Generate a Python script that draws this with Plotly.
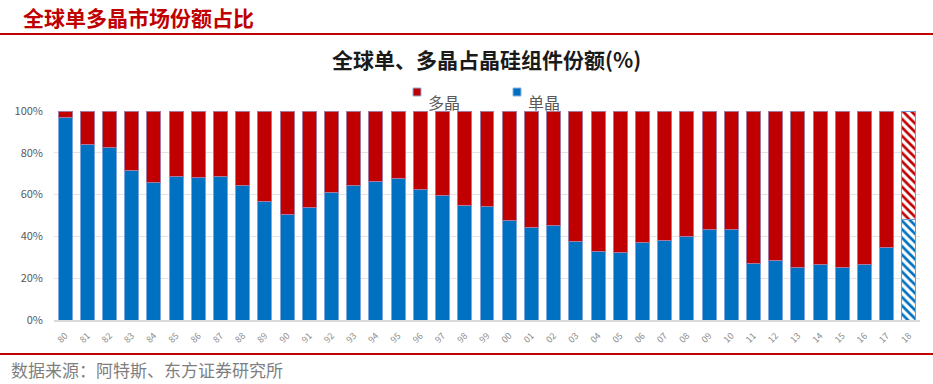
import plotly.graph_objects as go

years = ["80","81","82","83","84","85","86","87","88","89","90","91","92","93","94","95","96","97","98","99",
         "00","01","02","03","04","05","06","07","08","09","10","11","12","13","14","15","16","17","18"]
mono = [96.8, 84.0, 82.4, 71.5, 65.9, 68.8, 68.0, 68.5, 64.5, 56.8, 50.4, 53.6, 60.8, 64.5, 66.4, 67.5, 62.4, 59.7, 54.9, 54.1,
        47.5, 44.3, 45.1, 37.6, 32.8, 32.3, 37.3, 37.9, 40.0, 43.2, 43.2, 27.2, 28.5, 25.3, 26.7, 25.3, 26.7, 34.7, 48.0]
multi = [round(100 - v, 1) for v in mono]
forecast = ["18"]
series_names = ["多晶", "单晶"]

RED = "#C00000"
BLUE = "#0070C0"
FONT = "Microsoft YaHei, Noto Sans CJK SC, sans-serif"

hist_idx = [i for i, y in enumerate(years) if y not in forecast]
fc_idx = [i for i, y in enumerate(years) if y in forecast]

fig = go.Figure()
for vals, name, col, outline in [(mono, series_names[1], BLUE, "#7BA7DE"), (multi, series_names[0], RED, "#A8789E")]:
    fig.add_trace(go.Bar(
        x=[years[i] for i in hist_idx], y=[vals[i] for i in hist_idx], name=name, showlegend=False,
        marker=dict(color=col, line=dict(color=outline, width=1)),
    ))
    fig.add_trace(go.Bar(
        x=[years[i] for i in fc_idx], y=[vals[i] for i in fc_idx], name=name + "(预测)", showlegend=False,
        marker=dict(color=col, line=dict(color="#6A9AD8", width=1),
                    pattern=dict(shape="\\", fgcolor=col, bgcolor="white", fillmode="replace",
                                 size=6, solidity=0.45)),
    ))

W, H = 933, 384
L, R, T, B = 54, 13, 111, 64
pw, ph = W - L - R, H - T - B

def px(x):
    return (x - L) / pw

def py(y):
    return (H - B - y) / ph

shape_list = [
    dict(type="line", xref="paper", yref="paper", x0=px(0), x1=px(W), y0=py(34), y1=py(34),
         line=dict(color=RED, width=2)),
    dict(type="line", xref="paper", yref="paper", x0=px(0), x1=px(W), y0=py(354), y1=py(354),
         line=dict(color=RED, width=2)),
]
ann = [
    dict(text="<b>全球单多晶市场份额占比</b>", xref="paper", yref="paper", x=px(21), y=py(17),
         xanchor="left", yanchor="middle", showarrow=False, font=dict(size=21, color=RED, family=FONT)),
    dict(text="<b>全球单、多晶占晶硅组件份额(%)</b>", xref="paper", yref="paper", x=px(486), y=py(59),
         xanchor="center", yanchor="middle", showarrow=False, font=dict(size=21, color="#1a1a1a", family=FONT)),
    dict(text="数据来源：阿特斯、东方证券研究所", xref="paper", yref="paper", x=px(9), y=py(369),
         xanchor="left", yanchor="middle", showarrow=False, font=dict(size=17, color="#7f7f7f", family=FONT)),
]
# manual legend
for (sx, tx, col, name) in [(413, 426, RED, series_names[0]), (513, 526, BLUE, series_names[1])]:
    shape_list.append(dict(type="rect", xref="paper", yref="paper", x0=px(sx), x1=px(sx + 8),
                           y0=py(96), y1=py(88), fillcolor=col, line=dict(color="#8FB0E0", width=1)))
    ann.append(dict(text=name, xref="paper", yref="paper", x=px(tx), y=py(102), xanchor="left",
                    yanchor="middle", showarrow=False, font=dict(size=16, color="#595959", family=FONT)))

fig.update_layout(
    width=W, height=H,
    margin=dict(l=L, r=R, t=T, b=B, autoexpand=False),
    barmode="stack", bargap=0.37,
    plot_bgcolor="white", paper_bgcolor="white",
    font=dict(family=FONT, color="#595959"),
    showlegend=False,
    xaxis=dict(type="category", categoryorder="array", categoryarray=years, tickangle=-45,
               tickfont=dict(size=9, color="#8c8c8c"), ticklabelstandoff=5,
               showline=True, linecolor="#d9d9d9", linewidth=2, ticks="", showgrid=False, automargin=False),
    yaxis=dict(range=[0, 100], dtick=20, ticksuffix="%", tickfont=dict(size=11, color="#595959"),
               ticklabelstandoff=10,
               showgrid=True, gridcolor="#e3e3e3", gridwidth=1, zeroline=False, ticks="", automargin=False),
    shapes=shape_list,
    annotations=ann,
)

fig.write_html("out.html", config={"displayModeBar": False},
               post_script="document.body.style.margin='0';document.body.style.padding='0';")
